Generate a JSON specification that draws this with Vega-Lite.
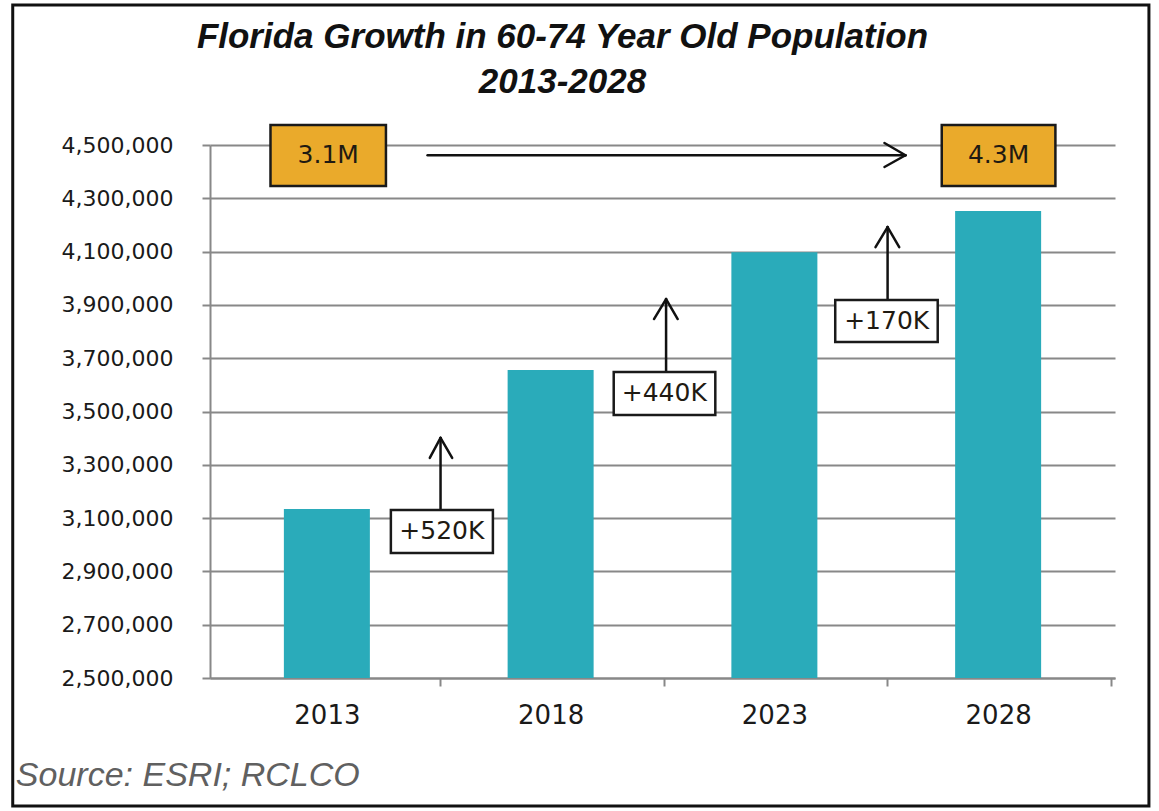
{
  "$schema": "https://vega.github.io/schema/vega-lite/v6.json",
  "width": 905,
  "height": 533,
  "autosize": {"type": "none"},
  "padding": {"left": 210, "top": 145, "right": 44, "bottom": 133},
  "background": "white",
  "title": {
    "text": ["Florida Growth in 60-74 Year Old Population", "2013-2028"],
    "font": "Liberation Sans",
    "fontSize": 35,
    "fontStyle": "italic",
    "fontWeight": "bold",
    "color": "#111111",
    "anchor": "middle",
    "frame": "group",
    "dx": -100,
    "offset": -96.5,
    "lineHeight": 45
  },
  "config": {
    "view": {"stroke": null},
    "axis": {
      "labelFont": "DejaVu Sans", "labelFontSize": 26, "labelColor": "#1a1a1a",
      "tickColor": "#888888", "tickWidth": 2, "tickSize": 8,
      "domainColor": "#888888", "domainWidth": 2,
      "gridColor": "#888888", "gridWidth": 2, "gridOpacity": 1
    }
  },
  "layer": [
    {
      "data": {"values": [
        {"year": 2013, "population": 3134000},
        {"year": 2018, "population": 3656000},
        {"year": 2023, "population": 4098000},
        {"year": 2028, "population": 4252000}
      ]},
      "mark": {"type": "bar", "color": "#2AABBA", "width": 86},
      "encoding": {
        "x": {
          "field": "year", "type": "quantitative", "title": null,
          "scale": {"domain": [2010.5, 2030.5], "nice": false, "zero": false},
          "axis": {
            "values": [2013, 2018, 2023, 2028], "format": "d", "labelAngle": 0,
            "labelPadding": 16, "tickOffset": 113, "labelOffset": -113, "grid": false
          }
        },
        "y": {
          "field": "population", "type": "quantitative", "title": null,
          "scale": {"domain": [2500000, 4500000], "nice": false, "zero": false},
          "axis": {
            "values": [2500000, 2700000, 2900000, 3100000, 3300000, 3500000, 3700000, 3900000, 4100000, 4300000, 4500000],
            "format": ",d", "labelPadding": 29, "labelFontSize": 22, "grid": true
          }
        },
        "y2": {"datum": 2500000}
      }
    },
    {
      "data": {"values": [{}]},
      "mark": {"type": "rect", "filled": false, "stroke": "#111111", "strokeWidth": 3},
      "encoding": {
        "x": {"datum": 2005.98, "type": "quantitative", "title": null, "scale": {"domain": [2010.5, 2030.5], "nice": false, "zero": false}},
        "x2": {"datum": 2031.37},
        "y": {"datum": 5025300, "type": "quantitative", "title": null, "scale": {"domain": [2500000, 4500000], "nice": false, "zero": false}},
        "y2": {"datum": 2019700}
      }
    },
    {
      "data": {"values": [
        {"x": 2015.25, "y": 4461500, "x2": 2025.93, "y2": 4461500},
        {"x": 2025.46, "y": 4507500, "x2": 2025.93, "y2": 4461500},
        {"x": 2025.46, "y": 4417400, "x2": 2025.93, "y2": 4461500},
        {"x": 2015.54, "y": 3130000, "x2": 2015.54, "y2": 3401000},
        {"x": 2015.30, "y": 3326000, "x2": 2015.54, "y2": 3401000},
        {"x": 2015.80, "y": 3326000, "x2": 2015.54, "y2": 3401000},
        {"x": 2020.58, "y": 3648000, "x2": 2020.58, "y2": 3922000},
        {"x": 2020.31, "y": 3847000, "x2": 2020.58, "y2": 3922000},
        {"x": 2020.84, "y": 3847000, "x2": 2020.58, "y2": 3922000},
        {"x": 2025.53, "y": 3918000, "x2": 2025.53, "y2": 4192000},
        {"x": 2025.26, "y": 4117000, "x2": 2025.53, "y2": 4192000},
        {"x": 2025.79, "y": 4117000, "x2": 2025.53, "y2": 4192000}
      ]},
      "mark": {"type": "rule", "color": "#111111", "strokeWidth": 2.5, "strokeCap": "round"},
      "encoding": {
        "x": {"field": "x", "type": "quantitative", "title": null, "scale": {"domain": [2010.5, 2030.5], "nice": false, "zero": false}},
        "x2": {"field": "x2"},
        "y": {"field": "y", "type": "quantitative", "title": null, "scale": {"domain": [2500000, 4500000], "nice": false, "zero": false}},
        "y2": {"field": "y2"}
      }
    },
    {
      "data": {"values": [
        {"label": "3.1M", "kind": "total", "x1": 2011.74, "x2": 2014.32, "y1": 4575000, "y2": 4346000},
        {"label": "4.3M", "kind": "total", "x1": 2026.74, "x2": 2029.28, "y1": 4575000, "y2": 4346000},
        {"label": "+520K", "kind": "change", "x1": 2014.43, "x2": 2016.71, "y1": 3130000, "y2": 2969000},
        {"label": "+440K", "kind": "change", "x1": 2019.41, "x2": 2021.68, "y1": 3648000, "y2": 3487000},
        {"label": "+170K", "kind": "change", "x1": 2024.36, "x2": 2026.65, "y1": 3918000, "y2": 3761000}
      ]},
      "mark": {"type": "rect", "stroke": "#1a1a1a", "strokeWidth": 2.5},
      "encoding": {
        "x": {"field": "x1", "type": "quantitative", "title": null, "scale": {"domain": [2010.5, 2030.5], "nice": false, "zero": false}},
        "x2": {"field": "x2"},
        "y": {"field": "y1", "type": "quantitative", "title": null, "scale": {"domain": [2500000, 4500000], "nice": false, "zero": false}},
        "y2": {"field": "y2"},
        "fill": {"field": "kind", "type": "nominal", "scale": {"domain": ["total", "change"], "range": ["#EAAA2B", "#ffffff"]}, "legend": null}
      }
    },
    {
      "data": {"values": [
        {"label": "3.1M", "xm": 2013.03, "ym": 4461000},
        {"label": "4.3M", "xm": 2028.01, "ym": 4461000},
        {"label": "+520K", "xm": 2015.57, "ym": 3050000},
        {"label": "+440K", "xm": 2020.54, "ym": 3568000},
        {"label": "+170K", "xm": 2025.51, "ym": 3840000}
      ]},
      "mark": {"type": "text", "font": "DejaVu Sans", "fontSize": 25, "color": "#1f1a12", "align": "center", "baseline": "middle"},
      "encoding": {
        "x": {"field": "xm", "type": "quantitative", "title": null, "scale": {"domain": [2010.5, 2030.5], "nice": false, "zero": false}},
        "y": {"field": "ym", "type": "quantitative", "title": null, "scale": {"domain": [2500000, 4500000], "nice": false, "zero": false}},
        "text": {"field": "label"}
      }
    },
    {
      "data": {"values": [{"note": "Source: ESRI; RCLCO"}]},
      "mark": {"type": "text", "font": "Liberation Sans", "fontSize": 34, "fontStyle": "italic", "color": "#606060", "align": "left", "baseline": "alphabetic"},
      "encoding": {
        "x": {"datum": 2006.05, "type": "quantitative", "title": null, "scale": {"domain": [2010.5, 2030.5], "nice": false, "zero": false}},
        "y": {"datum": 2094700, "type": "quantitative", "title": null, "scale": {"domain": [2500000, 4500000], "nice": false, "zero": false}},
        "text": {"field": "note"}
      }
    }
  ]
}
